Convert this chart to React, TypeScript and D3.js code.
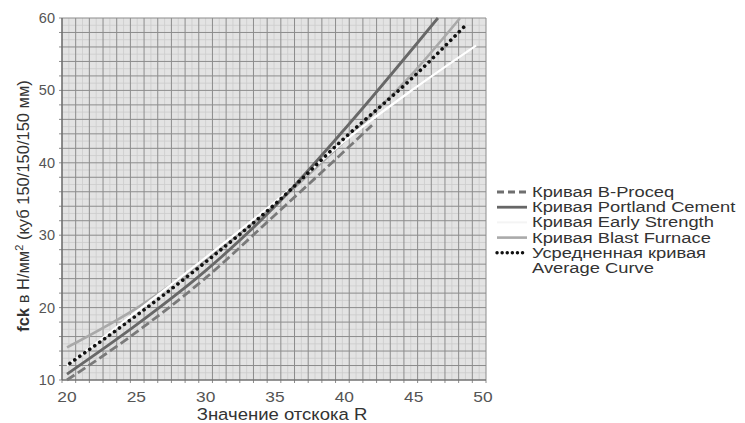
import React from "react";
import * as d3 from "d3";

const xTicks = [20, 25, 30, 35, 40, 45, 50];
const yTicks = [10, 20, 30, 40, 50, 60];

const bProceq: [number, number][] = [[20, 10], [25, 16.6], [30, 24.1], [35, 32.8], [40, 41.6], [42, 45.2]];
const portland: [number, number][] = [[20, 10.8], [25, 17.6], [30, 25.1], [35, 34], [40, 44.6], [46.75, 60]];
const earlyStrength: [number, number][] = [[20, 12], [25, 19.4], [30, 26.9], [35, 34.6], [40, 43], [45, 50.2], [49.5, 56.2]];
const blastFurnace: [number, number][] = [[20, 14.5], [25, 19.9], [30, 26.6], [35, 34.2], [40, 43], [45, 52.5], [48.35, 60]];
const average: [number, number][] = [[20.2, 12.3], [25, 18.9], [30, 26.3], [35, 34.3], [40, 43.4], [45, 51.9], [48.9, 59.3]];

const legendLabels = [
  "Кривая B-Proceq",
  "Кривая Portland Cement",
  "Кривая Early Strength",
  "Кривая Blast Furnace",
  "Усредненная кривая",
  "Average Curve",
];

const W = 745, H = 423;
const PL = 62, PR = 486, PT = 18, PB = 380;
const GRID_COLS = 31;
const x = d3.scaleLinear().domain([20, 50]).range([67, 483]);
const y = d3.scaleLinear().domain([10, 60]).range([PB, PT]);
const line = d3.line<[number, number]>().x(d => x(d[0])).y(d => y(d[1])).curve(d3.curveMonotoneX);

const FONT = "'Liberation Sans', Arial, sans-serif";
const ROW = 15.2;

export default function App() {
  const colW = (PR - PL) / GRID_COLS;
  const majorX = d3.range(0, GRID_COLS + 1).map(i => PL + i * colW);
  const minorX = d3.range(0, GRID_COLS).map(i => PL + (i + 0.5) * colW);
  const majorY = d3.range(10, 60.001, 2);
  const minorY = d3.range(11, 60, 2);

  const series = [
    { data: blastFurnace, stroke: "#a9a9a9", width: 2.6, dash: undefined as string | undefined, cap: "butt" },
    { data: earlyStrength, stroke: "#ffffff", width: 2.2, dash: undefined, cap: "butt" },
    { data: portland, stroke: "#686868", width: 2.8, dash: undefined, cap: "butt" },
    { data: bProceq, stroke: "#7a7a7a", width: 2.8, dash: "9 4", cap: "butt" },
    { data: average, stroke: "#111111", width: 3.6, dash: "0.1 6", cap: "round" },
  ];

  const legendItems = [
    { stroke: "#6f6f6f", width: 2.8, dash: "7 4", cap: "butt" },
    { stroke: "#666666", width: 2.8, dash: undefined as string | undefined, cap: "butt" },
    { stroke: "#f4f4f4", width: 2, dash: undefined, cap: "butt" },
    { stroke: "#aaaaaa", width: 2.6, dash: undefined, cap: "butt" },
    { stroke: "#111111", width: 3.4, dash: "0.1 5", cap: "round" },
  ];

  return (
    <svg width={W} height={H} style={{ position: "absolute", left: 0, top: 0, background: "#fff" }} fontFamily={FONT}>
      <rect x={PL} y={PT} width={PR - PL} height={PB - PT} fill="#e3e3e3" />
      {minorX.map((v, i) => (
        <line key={"mx" + i} x1={v} x2={v} y1={PT} y2={PB} stroke="#cbcbcb" strokeWidth={0.8} />
      ))}
      {minorY.map(v => (
        <line key={"my" + v} x1={PL} x2={PR} y1={y(v)} y2={y(v)} stroke="#cbcbcb" strokeWidth={0.8} />
      ))}
      {majorX.map((v, i) => (
        <line key={"MX" + i} x1={v} x2={v} y1={PT} y2={PB + 3} stroke="#8c8c8c" strokeWidth={1} />
      ))}
      {majorY.map(v => (
        <line key={"MY" + v} x1={PL - 3} x2={PR} y1={y(v)} y2={y(v)} stroke="#8c8c8c" strokeWidth={1} />
      ))}
      <line x1={PL} x2={PR} y1={PB} y2={PB} stroke="#666" strokeWidth={1.2} />
      <line x1={PL} x2={PL} y1={PT} y2={PB} stroke="#666" strokeWidth={1.2} />

      {series.map((s, i) => (
        <path key={i} d={line(s.data) || ""} fill="none" stroke={s.stroke} strokeWidth={s.width}
          strokeDasharray={s.dash} strokeLinecap={s.cap as any} />
      ))}

      {xTicks.map(v => (
        <text key={"xt" + v} transform={`translate(${x(v)},402) scale(1.12,1)`} textAnchor="middle" fontSize={15.5} fill="#555">{v}</text>
      ))}
      {yTicks.map(v => (
        <text key={"yt" + v} x={55} y={y(v) + 5} textAnchor="end" fontSize={14.5} fill="#555">{v}</text>
      ))}

      <text transform="translate(282,420) scale(1.09,1)" textAnchor="middle" fontSize={17} fill="#333">Значение отскока R</text>
      <text transform={`translate(29,206) rotate(-90)`} textAnchor="middle" fontSize={16.5} fill="#333">
        <tspan fontWeight="bold">fck</tspan>
        <tspan> в Н/мм</tspan>
        <tspan dy={-6} fontSize={11}>2</tspan>
        <tspan dy={6}> (куб 150/150/150 мм)</tspan>
      </text>

      <g transform="translate(532,0) scale(1.31,1)">
        {legendLabels.map((t, i) => (
          <text key={"lg" + i} x={0} y={197 + i * ROW} fontSize={14} fill="#333">{t}</text>
        ))}
      </g>
      {legendItems.map((s, i) => (
        <line key={"ll" + i} x1={497} x2={527} y1={192 + i * ROW} y2={192 + i * ROW} stroke={s.stroke}
          strokeWidth={s.width} strokeDasharray={s.dash} strokeLinecap={s.cap as any} />
      ))}
    </svg>
  );
}
